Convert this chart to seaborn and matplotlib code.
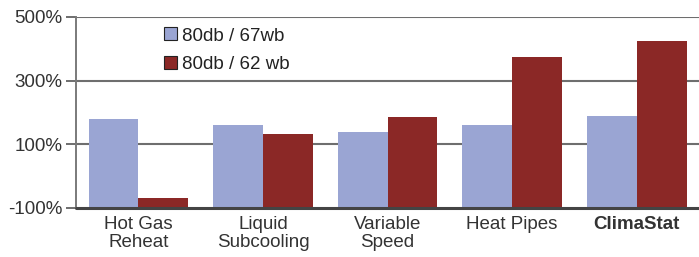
import seaborn as sns
import matplotlib.pyplot as plt
import matplotlib.ticker as ticker
import matplotlib.patches as mpatches
import pandas as pd

categories = ['Hot Gas\nReheat', 'Liquid\nSubcooling', 'Variable\nSpeed', 'Heat Pipes', 'ClimaStat']
series = ['80db / 67wb', '80db / 62 wb']
vals_67 = [178, 159, 137, 162, 190]
vals_62 = [-70, 131, 187, 375, 425]
yticks = [-100, 100, 300, 500]

df = pd.DataFrame({
    'cat': categories * 2,
    'series': [series[0]] * 5 + [series[1]] * 5,
    'value': vals_67 + vals_62,
})

sns.set_theme(style="white")
plt.rcParams['font.family'] = ['Liberation Sans', 'DejaVu Sans']
colors = ['#9aa5d3', '#8b2826']
fs = 13.5

fig, ax = plt.subplots(figsize=(6.99, 2.57), dpi=100)
fig.subplots_adjust(left=0.109, right=1.0, top=0.934, bottom=0.191)

# bars rise from the -100% baseline
df['height'] = df['value'] + 100
sns.barplot(data=df, x='cat', y='height', hue='series', palette=colors,
            ax=ax, bottom=-100, linewidth=0, saturation=1, width=0.8, legend=False)

ax.set_ylim(-100, 500)
ax.set_xlim(-0.5, 4.5)
ax.set_yticks(yticks)
ax.yaxis.set_major_formatter(ticker.FuncFormatter(lambda v, p: '%d%%' % v))
for y in yticks[1:]:
    ax.axhline(y, color='#6e6e6e', lw=1.5, zorder=0)
ax.axhline(-100, color='#444444', lw=2.2, zorder=3, clip_on=False)

sns.despine(ax=ax, top=True, right=True, bottom=True)
ax.spines['left'].set_color('#7a7a7a')
ax.spines['left'].set_linewidth(1.4)
ax.tick_params(axis='y', length=7, width=1.4, color='#6e6e6e', labelsize=fs,
               labelcolor='#333333', pad=3, left=True)
ax.tick_params(axis='x', length=0, labelsize=fs, labelcolor='#333333', pad=6)
ax.set(xlabel='', ylabel='')
for lab in ax.get_xticklabels():
    lab.set_linespacing(1.08)
    if lab.get_text() == 'ClimaStat':
        lab.set_fontweight('bold')

handles = [mpatches.Patch(facecolor=c, edgecolor='#222222', lw=0.8, label=s)
           for c, s in zip(colors, series)]
leg = ax.legend(handles=handles, loc='upper left', bbox_to_anchor=(0.141, 0.945), frameon=False,
                fontsize=fs, handlelength=0.69, handleheight=0.69, borderpad=0,
                handletextpad=0.27, labelspacing=0.62, borderaxespad=0)
for t in leg.get_texts():
    t.set_color('#222222')

plt.savefig('out.png', dpi=100)
